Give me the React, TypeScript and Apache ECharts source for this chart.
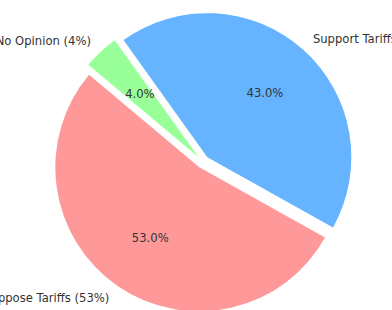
import React, { useEffect, useRef } from 'react';
import * as echarts from 'echarts';

const categories = ['Support Tariffs', 'Oppose Tariffs', 'No Opinion'];
const values = [43, 53, 4];
const colors = ['#66b3ff', '#ff9999', '#99ff99'];

export default function App() {
  const ref = useRef<HTMLDivElement>(null);
  useEffect(() => {
    const chart = echarts.init(ref.current!, null, { renderer: 'svg' });
    const R = 144;
    const center = [203, 162];
    const font = { fontFamily: 'DejaVu Sans', fontSize: 11.6, color: '#333333' };
    const common: any = {
      type: 'pie',
      center,
      startAngle: 125.6,
      clockwise: true,
      selectedMode: 'multiple',
      selectedOffset: 6.5,
      avoidLabelOverlap: false,
      emphasis: { disabled: true },
      minAngle: 0,
    };
    const sliceData = categories.map((c, i) => ({
      name: c,
      value: values[i],
      selected: true,
      itemStyle: { color: colors[i] },
    }));
    const pctData = categories.map((c, i) => ({
      name: c,
      value: values[i],
      selected: true,
      itemStyle: { color: 'rgba(0,0,0,0)' },
    }));
    chart.setOption({
      animation: false,
      series: [
        {
          ...common,
          radius: R,
          data: sliceData,
          label: {
            show: true,
            position: 'outside',
            distanceToLabelLine: 0,
            formatter: (p: any) => `${p.name} (${Math.round(p.percent)}%)`,
            ...font,
          },
          labelLine: { show: false, length: R * 0.1, length2: 0 },
        },
        {
          ...common,
          radius: 2 * (R * 0.6 - 3),
          silent: true,
          z: 3,
          data: pctData,
          label: {
            show: true,
            position: 'inside',
            formatter: (p: any) => `${p.percent.toFixed(1)}%`,
            ...font,
          },
          labelLine: { show: false },
        },
      ],
    });
    return () => chart.dispose();
  }, []);
  return (
    <div
      ref={ref}
      style={{ position: 'absolute', left: 0, top: 0, width: 392, height: 310, background: '#fff' }}
    />
  );
}
